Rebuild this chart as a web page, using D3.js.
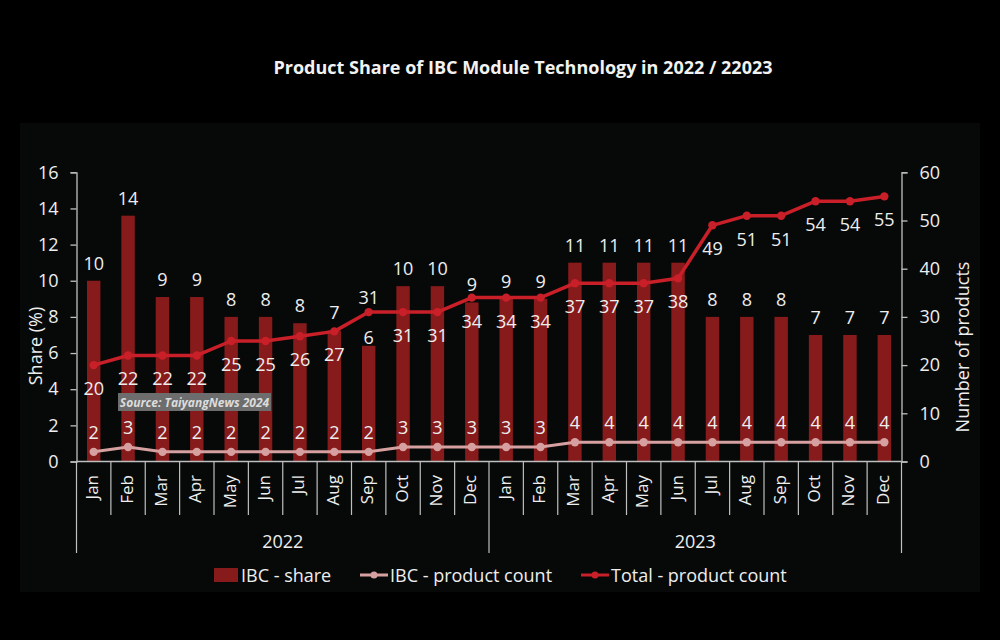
<!DOCTYPE html>
<html>
<head>
<meta charset="utf-8">
<script src="https://cdn.jsdelivr.net/npm/d3@7"></script>
<style>
  body { margin: 0; background: #000; }
  text { font-family: "Open Sans", sans-serif; }
</style>
</head>
<body>
<div id="chart"></div>
<script>
// months & years
var months = ["Jan","Feb","Mar","Apr","May","Jun","Jul","Aug","Sep","Oct","Nov","Dec"];
var years = ["2022", "2023"];

// IBC share (%) per month, Jan 2022 .. Dec 2023
var ibcShare = [10, 13.6, 9.1, 9.1, 8, 8, 7.65, 7.25, 6.4, 9.7, 9.7, 8.8,
                9, 9, 11, 11, 11, 11, 8, 8, 8, 7, 7, 7];
// IBC product count
var ibcCount = [2, 3, 2, 2, 2, 2, 2, 2, 2, 3, 3, 3,
                3, 3, 4, 4, 4, 4, 4, 4, 4, 4, 4, 4];
// total product count
var totalCount = [20, 22, 22, 22, 25, 25, 26, 27, 31, 31, 31, 34,
                  34, 34, 37, 37, 37, 38, 49, 51, 51, 54, 54, 55];

var shareTicks = [0, 2, 4, 6, 8, 10, 12, 14, 16];
var countTicks = [0, 10, 20, 30, 40, 50, 60];

var W = 1000, H = 640;
var x0 = 76.5, x1 = 901.5, yBase = 461.5, yTop = 172.3;

var colBar = "#871b1b", colTotal = "#c91f28", colIbc = "#d7a0a0", colAxis = "#bfbfbf", colText = "#eeeeee";

// one entry per month
var rows = [];
years.forEach(function(yr, yi) {
  months.forEach(function(m, mi) {
    var i = yi * 12 + mi;
    rows.push({ key: m + " " + yr, month: m, year: yr, share: ibcShare[i], ibc: ibcCount[i], total: totalCount[i] });
  });
});

var svg = d3.select("#chart").append("svg")
  .attr("width", W).attr("height", H);

svg.append("rect").attr("width", W).attr("height", H).attr("fill", "#000");
svg.append("rect").attr("x", 20).attr("y", 123).attr("width", 960).attr("height", 469).attr("fill", "#070909");

// title
svg.append("text")
  .attr("x", 523).attr("y", 74)
  .attr("text-anchor", "middle")
  .attr("fill", "#f2f2f2")
  .attr("font-size", 18).attr("font-weight", 700)
  .text("Product Share of IBC Module Technology in 2022 / 22023");

var x = d3.scaleBand().domain(rows.map(function(d) { return d.key; })).range([x0, x1]);
var yL = d3.scaleLinear().domain([0, 16]).range([yBase, yTop]);
var yR = d3.scaleLinear().domain([0, 60]).range([yBase, yTop]);
var cx = function(d) { return x(d.key) + x.bandwidth() / 2; };

// left axis
var axL = svg.append("g").attr("transform", "translate(" + x0 + ",0)")
  .call(d3.axisLeft(yL).tickValues(shareTicks).tickSize(6).tickPadding(12));
// right axis
var axR = svg.append("g").attr("transform", "translate(" + x1 + ",0)")
  .call(d3.axisRight(yR).tickValues(countTicks).tickSize(6).tickPadding(12));
[axL, axR].forEach(function(a) {
  a.selectAll("path, line").attr("stroke", colAxis).attr("stroke-width", 1.3);
  a.selectAll("text").attr("fill", colText).attr("font-size", 18)
    .attr("font-family", "'Open Sans', sans-serif");
});

svg.append("text")
  .attr("transform", "translate(37,346) rotate(-90)")
  .attr("text-anchor", "middle").attr("dominant-baseline", "middle")
  .attr("fill", colText).attr("font-size", 18)
  .text("Share (%)");
svg.append("text")
  .attr("transform", "translate(964,347) rotate(-90)")
  .attr("text-anchor", "middle").attr("dominant-baseline", "middle")
  .attr("fill", colText).attr("font-size", 18)
  .text("Number of products");

// bars
var barW = x.bandwidth() * 0.39;
svg.append("g").selectAll("rect")
  .data(rows).enter().append("rect")
  .attr("x", function(d) { return cx(d) - barW / 2; })
  .attr("y", function(d) { return yL(d.share); })
  .attr("width", barW)
  .attr("height", function(d) { return yBase - yL(d.share); })
  .attr("fill", colBar);

// x axis line
svg.append("line").attr("x1", x0).attr("x2", x1).attr("y1", yBase).attr("y2", yBase)
  .attr("stroke", colAxis).attr("stroke-width", 1.5);

// month separators
var seps = d3.range(rows.length + 1);
svg.append("g").selectAll("line")
  .data(seps).enter().append("line")
  .attr("x1", function(i) { return x0 + i * x.bandwidth(); })
  .attr("x2", function(i) { return x0 + i * x.bandwidth(); })
  .attr("y1", yBase)
  .attr("y2", function(i) { return i % 12 === 0 ? 553 : 515; })
  .attr("stroke", colAxis).attr("stroke-width", 1.2);

// month labels
svg.append("g").selectAll("text")
  .data(rows).enter().append("text")
  .attr("transform", function(d) { return "translate(" + cx(d) + ",475) rotate(-90)"; })
  .attr("text-anchor", "end").attr("dominant-baseline", "middle")
  .attr("fill", colText).attr("font-size", 17)
  .attr("font-family", "'DejaVu Sans', sans-serif")
  .text(function(d) { return d.month; });

// year labels
svg.append("g").selectAll("text")
  .data(years).enter().append("text")
  .attr("x", function(yr, i) { return x0 + (i * 12 + 6) * x.bandwidth(); })
  .attr("y", 541)
  .attr("text-anchor", "middle").attr("dominant-baseline", "central")
  .attr("fill", colText).attr("font-size", 18)
  .text(function(yr) { return yr; });

// lines
var lineTotal = d3.line().x(cx).y(function(d) { return yR(d.total); });
var lineIbc = d3.line().x(cx).y(function(d) { return yR(d.ibc); });

svg.append("path").datum(rows).attr("d", lineIbc)
  .attr("fill", "none").attr("stroke", colIbc).attr("stroke-width", 3);
svg.append("g").selectAll("circle")
  .data(rows).enter().append("circle")
  .attr("cx", cx).attr("cy", function(d) { return yR(d.ibc); })
  .attr("r", 4.2).attr("fill", colIbc);

svg.append("path").datum(rows).attr("d", lineTotal)
  .attr("fill", "none").attr("stroke", colTotal).attr("stroke-width", 3.5)
  .attr("stroke-linejoin", "round");
svg.append("g").selectAll("circle")
  .data(rows).enter().append("circle")
  .attr("cx", cx).attr("cy", function(d) { return yR(d.total); })
  .attr("r", 4.2).attr("fill", colTotal);

// data labels
function labels(get, ypos) {
  svg.append("g").selectAll("text")
    .data(rows).enter().append("text")
    .attr("x", cx)
    .attr("y", ypos)
    .attr("text-anchor", "middle").attr("dominant-baseline", "central")
    .attr("fill", colText).attr("font-size", 18)
    .text(function(d) { return Math.round(get(d)); });
}
labels(function(d) { return d.share; }, function(d) {
  return yL(d.share) - (d.key === "Sep 2022" ? 9 : 18);
});
labels(function(d) { return d.ibc; }, function(d) { return yR(d.ibc) - 20; });
labels(function(d) { return d.total; }, function(d) {
  return d.key === "Sep 2022" ? yR(d.total) - 15 : yR(d.total) + 23;
});

// source tag
svg.append("rect").attr("x", 118).attr("y", 393).attr("width", 153).attr("height", 18)
  .attr("fill", "#6d6d6d");
svg.append("text").attr("x", 194.5).attr("y", 402.5)
  .attr("text-anchor", "middle").attr("dominant-baseline", "central")
  .attr("fill", "#dcdcdc").attr("font-size", 12).attr("font-weight", 700)
  .attr("font-style", "italic")
  .attr("font-family", "'Liberation Sans', Arial, sans-serif")
  .text("Source: TaiyangNews 2024");

// legend
var legY = 575;
var leg = svg.append("g");
leg.append("rect").attr("x", 214).attr("y", legY - 7).attr("width", 24).attr("height", 14).attr("fill", colBar);
leg.append("text").attr("x", 241).attr("y", legY).attr("dominant-baseline", "central")
  .attr("fill", colText).attr("font-size", 18).text("IBC - share");
[[360, colIbc, "IBC - product count"], [581, colTotal, "Total - product count"]].forEach(function(l) {
  leg.append("line").attr("x1", l[0]).attr("x2", l[0] + 28).attr("y1", legY).attr("y2", legY)
    .attr("stroke", l[1]).attr("stroke-width", 3);
  leg.append("circle").attr("cx", l[0] + 14).attr("cy", legY).attr("r", 3.5).attr("fill", l[1]);
  leg.append("text").attr("x", l[0] + 30).attr("y", legY).attr("dominant-baseline", "central")
    .attr("fill", colText).attr("font-size", 18).text(l[2]);
});
</script>
</body>
</html>
